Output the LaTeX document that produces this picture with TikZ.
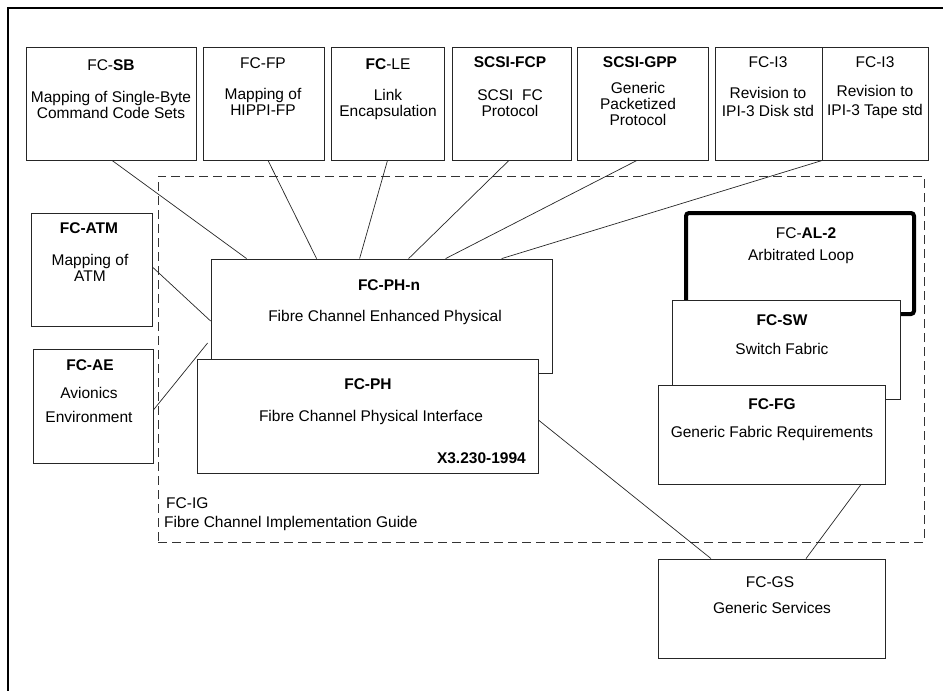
\documentclass[tikz,border=0pt]{standalone}
\usepackage{fontspec}
\setmainfont{Liberation Sans}
\usetikzlibrary{calc}
\tikzset{
  box/.style={draw=black!85, line width=0.8pt, fill=white, inner sep=0pt, rectangle},
  heavybox/.style={draw=black, line width=4pt, fill=white, inner sep=0pt, rectangle, rounded corners=3pt},
  groupbox/.style={draw=black!80, line width=0.8pt, dash pattern=on 9pt off 5pt, inner sep=0pt, rectangle},
  link/.style={draw=black!85, line width=0.7pt},
  txt/.style={inner sep=0pt, align=center, font=\fontsize{15.5}{16}\selectfont},
  wtxt/.style={txt, font=\fontsize{15.5}{18.5}\selectfont},
  ltxt/.style={inner sep=0pt, anchor=west, font=\fontsize{15.5}{16}\selectfont}
}
\begin{document}
\begin{tikzpicture}[x=1pt, y=-1pt]
\useasboundingbox (0,0) rectangle (943,691);
% page frame
\draw[line width=2.5pt] (8,691) -- (8,8) -- (943,8);

% implementation guide grouping
\node[groupbox, minimum width=766pt, minimum height=366pt] (ig) at (541,359) {};
\node[ltxt] (igt) at (166,503) {FC-IG};
\node[ltxt] (igb) at (164,523) {Fibre Channel Implementation Guide};

% upper-layer mappings
\node[box, minimum width=170pt, minimum height=113pt] (sb) at (111,103.5) {};
\node[box, minimum width=121pt, minimum height=113pt] (fp) at (263.5,103.5) {};
\node[box, minimum width=113pt, minimum height=113pt] (le) at (387.5,103.5) {};
\node[box, minimum width=119pt, minimum height=113pt] (fcp) at (511.5,103.5) {};
\node[box, minimum width=131pt, minimum height=113pt] (gpp) at (642.5,103.5) {};
\node[box, minimum width=107pt, minimum height=113pt] (disk) at (768.5,103.5) {};
\node[box, minimum width=106pt, minimum height=113pt] (tape) at (875,103.5) {};

\node[txt] (sbt) at (111,65) {FC-\textbf{SB}};
\node[txt] (sbb) at (111,105) {Mapping of Single-Byte\\Command Code Sets};
\node[txt] (fpt) at (263,63) {FC-FP};
\node[txt] (fpb) at (263,102) {Mapping of\\HIPPI-FP};
\node[txt] (let) at (388,64) {\textbf{FC}-LE};
\node[txt] (leb) at (388,104) {Link\\Encapsulation};
\node[txt] (fcpt) at (510,62) {\textbf{SCSI-FCP}};
\node[txt] (fcpb) at (510,103) {SCSI\ \ FC\\Protocol};
\node[txt] (gppt) at (640,62) {\textbf{SCSI-GPP}};
\node[txt] (gppb) at (638,104) {Generic\\Packetized\\Protocol};
\node[txt] (diskt) at (768,62) {FC-I3};
\node[wtxt] (diskb) at (768,102) {Revision to\\IPI-3 Disk std};
\node[txt] (tapet) at (875,62) {FC-I3};
\node[wtxt] (tapeb) at (875,102) {Revision to\\IPI-3 Tape std};

% side mappings
\node[box, minimum width=121pt, minimum height=113pt] (atm) at (91.5,269.5) {};
\node[txt] (atmt) at (89,228) {\textbf{FC-ATM}};
\node[txt] (atmb) at (90,268) {Mapping of\\ATM};
\node[box, minimum width=120pt, minimum height=114pt] (ae) at (93,406) {};
\node[txt] (aet) at (90,365) {\textbf{FC-AE}};
\node[txt, font=\fontsize{15.5}{24}\selectfont] (aeb) at (89,405) {Avionics\\Environment};

% physical layer
\node[box, minimum width=341pt, minimum height=114pt] (phn) at (381.5,316) {};
\node[txt] (phnt) at (389,285) {\textbf{FC-PH-n}};
\node[txt] (phnb) at (385,317) {Fibre Channel Enhanced Physical};
\node[box, minimum width=341pt, minimum height=114pt] (ph) at (367.5,416) {};
\node[txt] (pht) at (368,384) {\textbf{FC-PH}};
\node[txt] (phb) at (371,417) {Fibre Channel Physical Interface};
\node[txt, anchor=east] (phx) at (526,458) {\textbf{X3.230-1994}};

% fabric stack
\node[heavybox, minimum width=228pt, minimum height=101pt] (al) at (800,263.5) {};
\node[txt] (alt) at (806,233) {FC-\textbf{AL-2}};
\node[txt] (alb) at (801,256) {Arbitrated Loop};
\node[box, minimum width=228pt, minimum height=99pt] (sw) at (786,349.5) {};
\node[txt] (swt) at (782,320) {\textbf{FC-SW}};
\node[txt] (swb) at (782,349) {Switch Fabric};
\node[box, minimum width=227pt, minimum height=99pt] (fg) at (771.5,434.5) {};
\node[txt] (fgt) at (772,404) {\textbf{FC-FG}};
\node[txt] (fgb) at (772,433) {Generic Fabric Requirements};

% services
\node[box, minimum width=227pt, minimum height=99pt] (gs) at (771.5,608.5) {};
\node[txt] (gst) at (770,582) {FC-GS};
\node[txt] (gsb) at (772,608) {Generic Services};

% connectors
\draw[link] ([xshift=1pt]sb.south) -- ([xshift=36pt]phn.north west);
\draw[link] ([xshift=4.5pt]fp.south) -- ([xshift=106pt]phn.north west);
\draw[link] (le.south) -- ([xshift=149pt]phn.north west);
\draw[link] ([xshift=-2.5pt]fcp.south) -- ([xshift=198pt]phn.north west);
\draw[link] ([xshift=-5.5pt]gpp.south) -- ([xshift=235pt]phn.north west);
\draw[link] (disk.south east) -- ([xshift=291pt]phn.north west);
\draw[link] ([yshift=2.5pt]atm.east) -- ([yshift=-5pt]phn.west);
\draw[link] ([yshift=-4pt]ae.east) -- ([xshift=-3pt,yshift=-27pt]phn.west);
\draw[link] ([yshift=-4pt]ph.east) -- ([xshift=-60.5pt]gs.north);
\draw[link] ([xshift=89.5pt]fg.south) -- ([xshift=34.5pt]gs.north);
\end{tikzpicture}
\end{document}
